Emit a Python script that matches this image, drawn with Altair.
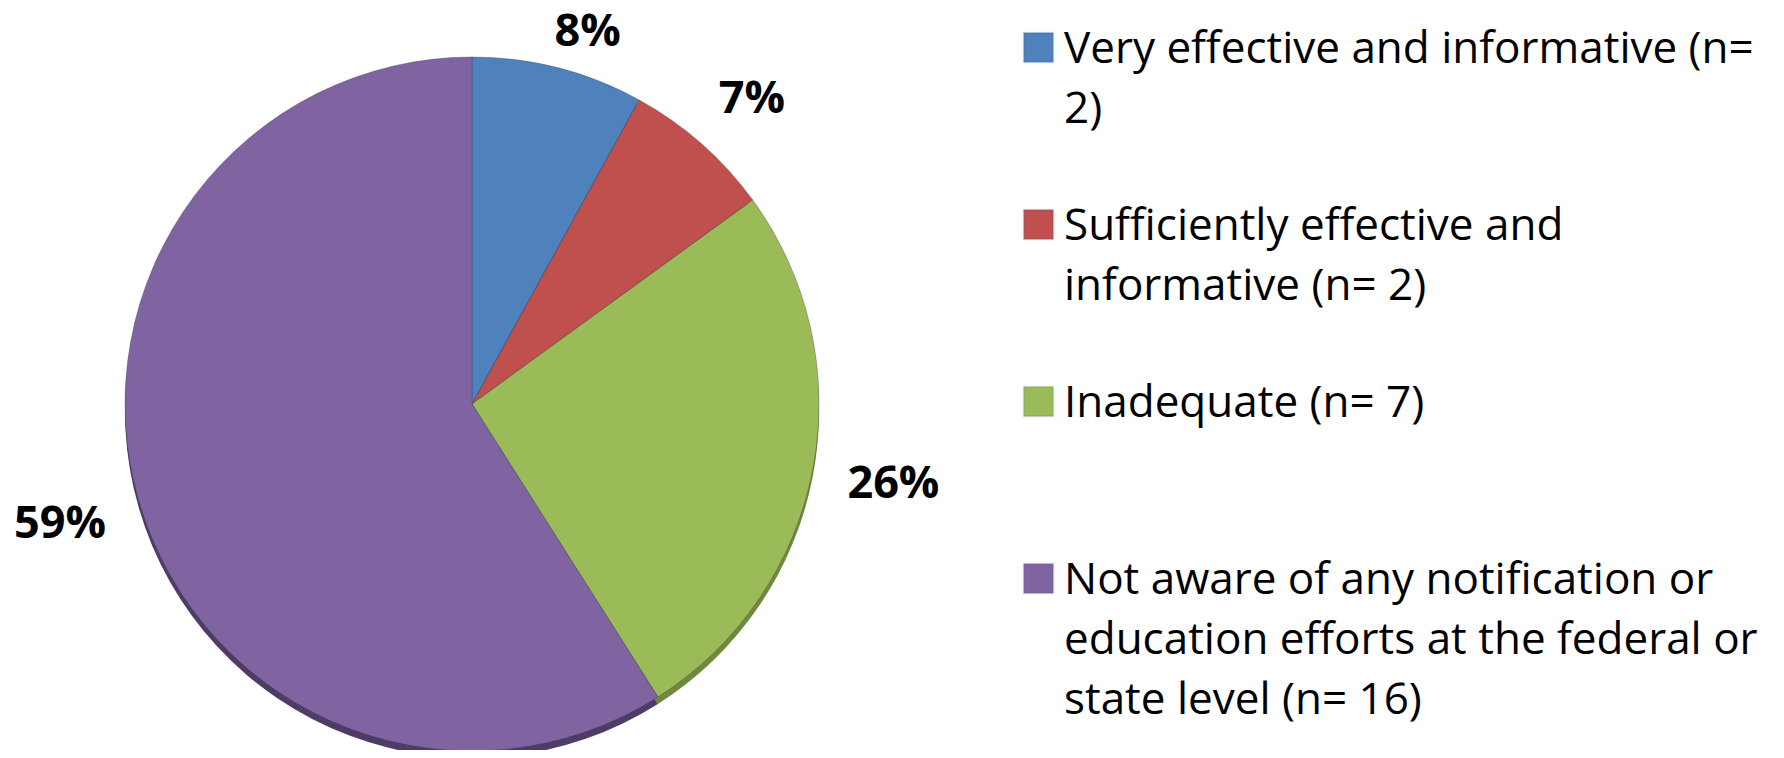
import altair as alt
import pandas as pd

categories = [
    "Very effective and informative (n= 2)",
    "Sufficiently effective and informative (n= 2)",
    "Inadequate (n= 7)",
    "Not aware of any notification or education efforts at the federal or state level (n= 16)",
]
legend_text = [
    "Very effective and informative (n=\n2)",
    "Sufficiently effective and\ninformative (n= 2)",
    "Inadequate (n= 7)",
    "Not aware of any notification or\neducation efforts at the federal or\nstate level (n= 16)",
]
percents = [8, 7, 26, 59]
pct_labels = ["8%", "7%", "26%", "59%"]
colors = ["#4F81BD", "#C0504D", "#9BBB59", "#8064A2"]
dark_colors = ["#3A6190", "#8E3A38", "#6F8A3C", "#4E3C66"]

df = pd.DataFrame({
    "category": categories,
    "legend": legend_text,
    "pct": percents,
    "label": pct_labels,
    "rank": list(range(len(categories))),
})

CX, CY, R = 464, 396, 347
FONT = "Open Sans"

color_scale = alt.Scale(domain=categories, range=colors)
base = alt.Chart(df)

theta = alt.Theta("pct:Q", stack=True)
order = alt.Order("rank:Q")

shadow = base.mark_arc(outerRadius=R).encode(
    theta=theta, order=order,
    color=alt.Color("category:N", scale=alt.Scale(domain=categories, range=dark_colors), legend=None),
    x=alt.value(CX), y=alt.value(CY + 7),
)

pie = base.mark_arc(outerRadius=R, stroke="#3a3a4a", strokeOpacity=0.35, strokeWidth=1).encode(
    theta=theta, order=order,
    color=alt.Color("category:N", scale=color_scale, legend=None),
    x=alt.value(CX), y=alt.value(CY),
)

def pct_text(radius, which, toff=0.0):
    return base.mark_text(radius=radius, thetaOffset=toff, font=FONT, fontWeight="bold", fontSize=45,
                          color="black", align="center", baseline="middle").encode(
        theta=theta, order=order,
        text=alt.condition(alt.FieldOneOfPredicate(field="label", oneOf=which),
                           alt.Text("label:N"), alt.value("")),
        x=alt.value(CX), y=alt.value(CY),
    )

t1 = pct_text(390, ["8%"], 0.05)
t2 = pct_text(414, ["7%"], 0.02)
t3 = pct_text(429, ["26%", "59%"])

yleg = alt.Y("category:N", axis=None,
             scale=alt.Scale(type="point", domain=categories, range=[39.5, 570.5], padding=0))

squares = base.mark_square(size=880, opacity=1, stroke="#2f4f7a", strokeOpacity=0.15).encode(
    y=yleg, x=alt.value(1030.5),
    color=alt.Color("category:N", scale=color_scale, legend=None),
)

leg_text = base.mark_text(align="left", baseline="alphabetic", dy=15, lineBreak="\n",
                          lineHeight=60, fontSize=44, font=FONT, color="black").encode(
    y=yleg, x=alt.value(1056), text="legend:N",
)

chart = alt.layer(shadow, pie, t1, t2, t3, squares, leg_text).resolve_scale(
    color="independent"
).properties(
    width=1768, height=742, padding=0, autosize=alt.AutoSizeParams(type="none")
).configure_view(stroke=None)

chart.save("out.html", embed_options={"renderer": "svg", "actions": False})
